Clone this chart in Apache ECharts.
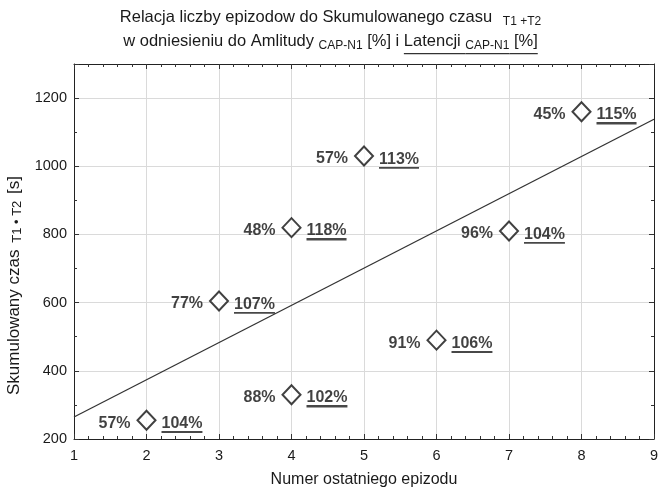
<!DOCTYPE html>
<html>
<head>
<meta charset="utf-8">
<script src="https://cdn.jsdelivr.net/npm/echarts@6/dist/echarts.min.js"></script>
<style>html,body{margin:0;padding:0;background:#fff}#c{width:661px;height:488px}</style>
</head>
<body>
<div id="c"></div>
<script>
// Data
const episodeNo = [2, 3, 4, 4, 5, 6, 7, 8];
const cumTime = [255, 605, 820, 330, 1030, 490, 810, 1160];
const amplitudeLabels = ['57%', '77%', '48%', '88%', '57%', '91%', '96%', '45%'];
const latencyLabels = ['104%', '107%', '118%', '102%', '113%', '106%', '104%', '115%'];
const xRange = [1, 9];
const yRange = [200, 1300];

// least-squares regression line from the data
const n = episodeNo.length;
const mx = episodeNo.reduce((a, b) => a + b, 0) / n;
const my = cumTime.reduce((a, b) => a + b, 0) / n;
let sxy = 0, sxx = 0;
for (let i = 0; i < n; i++) { sxy += (episodeNo[i] - mx) * (cumTime[i] - my); sxx += (episodeNo[i] - mx) ** 2; }
const slope = sxy / sxx, icpt = my - slope * mx;
const fitLine = xRange.map(x => [x, icpt + slope * x]);

const points = episodeNo.map((x, i) => [x, cumTime[i]]);

function underline(frac, col) {
  return { type: 'linear', x: 0, y: 0, x2: 0, y2: 1, global: false,
    colorStops: [{offset: 0, color: 'rgba(0,0,0,0)'}, {offset: 1 - frac, color: 'rgba(0,0,0,0)'},
                 {offset: 1 - frac, color: col}, {offset: 1, color: col}] };
}

const txt = '#1a1a1a';
const font = 'Liberation Sans, Arial, sans-serif';
const chart = echarts.init(document.getElementById('c'), null, {renderer: 'canvas'});

const axisCommon = {
  axisLine: {show: true, onZero: false, lineStyle: {color: '#222', width: 1}},
  axisTick: {show: true, inside: true, length: 5, lineStyle: {color: '#333'}},
};

chart.setOption({
  animation: false,
  backgroundColor: '#fff',
  title: {
    left: 'center', top: 0, padding: [6, 5, 5, 5],
    text: 'Relacja liczby epizodow do Skumulowanego czasu {s1|T1 +T2}\nw odniesieniu do Amlitudy {s|CAP-N1} [%] i {u|Latencji }{us|CAP-N1}{u| [%]}',
    textStyle: {
      fontFamily: font, fontSize: 16.5, fontWeight: 'normal', color: txt, lineHeight: 23.5,
      rich: {
        s1: {fontFamily: font, fontSize: 12, color: txt, lineHeight: 23.5, height: 12, padding: [8, 0, 0, 6]},
        s: {fontFamily: font, fontSize: 12, color: txt, lineHeight: 23.5, height: 12, padding: [8, 0, 0, 0]},
        u: {fontFamily: font, fontSize: 16.5, color: txt, lineHeight: 23.5, height: 16.5, padding: [4.75, 0, 4.75, 0],
            backgroundColor: underline(1.3 / 26, '#333')},
        us: {fontFamily: font, fontSize: 12, color: txt, lineHeight: 23.5, height: 12, padding: [11, 0, 3, 0],
            backgroundColor: underline(1.3 / 26, '#333')}
      }
    }
  },
  grid: {left: 74, right: 7, top: 64, bottom: 49, containLabel: false, outerBoundsMode: 'none'},
  xAxis: [
    Object.assign({}, axisCommon, {
      type: 'value', min: xRange[0], max: xRange[1], interval: 1, position: 'bottom',
      minorTick: {show: true, splitNumber: 5, length: 3, lineStyle: {color: '#333'}},
      splitLine: {show: true, lineStyle: {color: '#dadada', width: 1}},
      axisLabel: {color: txt, fontFamily: font, fontSize: 14.5, margin: 9},
      name: 'Numer ostatniego epizodu', nameLocation: 'middle', nameGap: 33,
      nameTextStyle: {color: txt, fontFamily: font, fontSize: 16}
    }),
    Object.assign({}, axisCommon, {
      type: 'value', min: xRange[0], max: xRange[1], interval: 1, position: 'top',
      minorTick: {show: true, splitNumber: 5, length: 3, lineStyle: {color: '#333'}},
      splitLine: {show: false}, axisLabel: {show: false}
    })
  ],
  yAxis: [
    Object.assign({}, axisCommon, {
      type: 'value', min: yRange[0], max: yRange[1], interval: 200, position: 'left',
      minorTick: {show: true, splitNumber: 2, length: 3, lineStyle: {color: '#333'}},
      splitLine: {show: true, lineStyle: {color: '#dadada', width: 1}},
      axisLabel: {color: txt, fontFamily: font, fontSize: 14.5, margin: 7, showMaxLabel: false,
        formatter: v => String(v)},
      name: 'Skumulowany czas {s|T1 • T2} [s]', nameLocation: 'middle', nameGap: 49, nameRotate: 90,
      nameTextStyle: {color: txt, fontFamily: font, fontSize: 17, padding: [0, 68, 0, 0],
        rich: {s: {fontFamily: font, fontSize: 13, color: txt, height: 13, padding: [6, 2, 0, 2]}}}
    }),
    Object.assign({}, axisCommon, {
      type: 'value', min: yRange[0], max: yRange[1], interval: 200, position: 'right',
      minorTick: {show: true, splitNumber: 2, length: 3, lineStyle: {color: '#333'}},
      splitLine: {show: false}, axisLabel: {show: false}
    })
  ],
  series: [
    {
      type: 'line', data: fitLine, symbol: 'none', silent: true,
      lineStyle: {color: '#333', width: 1.3}, z: 2
    },
    {
      type: 'scatter', data: points, symbol: 'diamond', symbolSize: [18, 19],
      itemStyle: {color: 'rgba(0,0,0,0)', borderWidth: 0}, z: 3,
      label: {
        show: true, position: 'right', distance: 6, offset: [0, 2], color: '#000',
        formatter: p => '{u|' + latencyLabels[p.dataIndex] + '}',
        rich: {u: {fontFamily: font, fontSize: 16, fontWeight: 'bold', color: '#111', height: 16,
          padding: [4, 0, 1.5, 0], backgroundColor: underline(2 / 21.5, '#1a1a1a')}}
      }
    },
    {
      type: 'scatter', data: points, symbol: 'diamond', symbolSize: [18, 19],
      itemStyle: {color: '#fff', borderColor: '#111', borderWidth: 2}, z: 4,
      label: {
        show: true, position: 'left', distance: 6, offset: [0, 3],
        formatter: p => amplitudeLabels[p.dataIndex],
        fontFamily: font, fontSize: 16, fontWeight: 'bold', color: '#111'
      }
    }
  ]
});
</script>
</body>
</html>
